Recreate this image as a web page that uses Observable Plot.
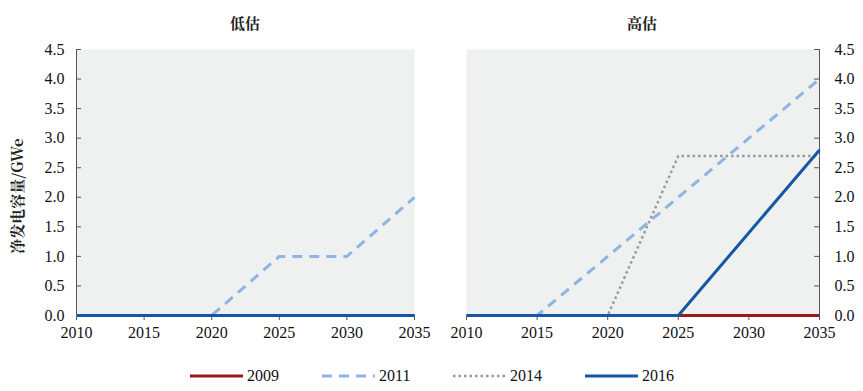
<!DOCTYPE html>
<html>
<head>
<meta charset="utf-8">
<script src="https://cdn.jsdelivr.net/npm/d3@7"></script>
<script src="https://cdn.jsdelivr.net/npm/@observablehq/plot@0.6"></script>
</head>
<body style="margin:0;background:#fff">
<div id="wrap" style="position:relative;width:863px;height:391px;font-family:'Liberation Serif',serif"></div>
<script>
// ---- data ----
const years = [2010, 2015, 2020, 2025, 2030, 2035];
const seriesNames = ["2009", "2011", "2014", "2016"];
// low estimate (低估)
const low2009 = [0, 0, 0, 0, 0, 0];
const low2011 = [0, 0, 0, 1.0, 1.0, 2.0];
const low2014 = [0, 0, 0, 0, 0, 0];
const low2016 = [0, 0, 0, 0, 0, 0];
// high estimate (高估)
const high2009 = [0, 0, 0, 0, 0, 0];
const high2011 = [0, 0, 1.0, 2.0, 3.0, 4.0];
const high2014 = [0, 0, 0, 2.7, 2.7, 2.7];
const high2016 = [0, 0, 0, 0, 1.4, 2.8];
const yTicks = [0, 0.5, 1, 1.5, 2, 2.5, 3, 3.5, 4, 4.5];
const xTicks = [2010, 2015, 2020, 2025, 2030, 2035];
const panelTitles = ["低估", "高估"];
const yLabel = "净发电容量/GWe";

const SERIF = "'Liberation Serif', 'Times New Roman', serif";
const CJK = "'Noto Serif CJK SC', 'Noto Sans CJK SC', serif";

const styles = {
  "2009": {stroke: "#991b1e", strokeWidth: 3},
  "2011": {stroke: "#8db4e2", strokeWidth: 3, strokeDasharray: "10,7"},
  "2014": {stroke: "#999999", strokeWidth: 2.5, strokeDasharray: "2.5,3"},
  "2016": {stroke: "#1557a6", strokeWidth: 3}
};

function rows(arrs) {
  const out = [];
  seriesNames.forEach((s, i) => years.forEach((yr, j) => out.push({series: s, year: yr, value: arrs[i][j]})));
  return out;
}
const lowData = rows([low2009, low2011, low2014, low2016]);
const highData = rows([high2009, high2011, high2014, high2016]);

const wrap = document.getElementById("wrap");
const H = 310, MT = 9, MB = 35;

function panel(data, side, width, ml, mr) {
  const pw = width - ml - mr;
  const marks = [
    Plot.frame({fill: "#eff0f0", stroke: null}),
    Plot.ruleX([side === "left" ? 2010 : 2035], {stroke: "#555", strokeWidth: 1}),
    Plot.tickY(yTicks, {y: d => d, stroke: "#555", strokeWidth: 1,
      insetRight: side === "left" ? pw - 5 : 0, insetLeft: side === "left" ? 0 : pw - 5}),
    Plot.axisY({anchor: side, ticks: yTicks, tickSize: 0, tickPadding: side === "left" ? 12 : 15,
      tickFormat: d => d.toFixed(1), fontSize: 16, fontFamily: SERIF, fill: "#111", label: null}),
    Plot.axisX({ticks: xTicks, tickSize: 5, tickPadding: 6, tickFormat: d => String(d), fontSize: 16, fontFamily: SERIF, fill: "#111", stroke: "#555", label: null}),
  ];
  for (const s of seriesNames) {
    marks.push(Plot.line(data.filter(d => d.series === s), {x: "year", y: "value", ...styles[s], strokeLinecap: "butt"}));
  }
  const svg = Plot.plot({
    width, height: H, marginTop: MT, marginBottom: MB, marginLeft: ml, marginRight: mr,
    style: {background: "transparent", overflow: "visible"},
    x: {domain: [2010, 2035]},
    y: {domain: [0, 4.5]},
    marks
  });
  svg.style.position = "absolute";
  svg.style.top = "40px";
  svg.querySelectorAll("text").forEach(t => { t.style.fontFamily = SERIF; });
  return svg;
}

const left = panel(lowData, "left", 430, 76, 16);
left.style.left = "0px";
const right = panel(highData, "right", 433, 36, 44);
right.style.left = "430px";
wrap.appendChild(left); wrap.appendChild(right);

[[panelTitles[0], 245], [panelTitles[1], 642]].forEach(([t, x]) => {
  const d = document.createElement("div");
  d.textContent = t;
  Object.assign(d.style, {position: "absolute", top: "12px", left: x + "px", transform: "translateX(-50%)",
    fontFamily: CJK, fontSize: "15px", fontWeight: "bold", color: "#222", whiteSpace: "nowrap"});
  wrap.appendChild(d);
});
const yl = document.createElement("div");
yl.textContent = yLabel;
Object.assign(yl.style, {position: "absolute", left: "16px", top: "196px", transform: "translate(-50%, -50%) rotate(-90deg)",
  fontFamily: CJK, fontSize: "15px", fontWeight: "bold", color: "#222", whiteSpace: "nowrap"});
wrap.appendChild(yl);

const legLefts = [190, 322, 453, 585];
seriesNames.forEach((s, i) => {
  const it = document.createElement("div");
  Object.assign(it.style, {position: "absolute", top: "366px", left: legLefts[i] + "px", display: "flex", alignItems: "center",
    fontFamily: SERIF, fontSize: "16px", color: "#111"});
  const st = styles[s];
  it.innerHTML = `<svg width="53" height="20" style="margin-right:4px"><line x1="0" x2="53" y1="10" y2="10" stroke="${st.stroke}" stroke-width="${st.strokeWidth}" ${st.strokeDasharray ? `stroke-dasharray="${st.strokeDasharray}"` : ""}/></svg><span style="font-family:${SERIF.replace(/'/g, '&quot;')}">${s}</span>`;
  wrap.appendChild(it);
});
</script>
</body>
</html>
